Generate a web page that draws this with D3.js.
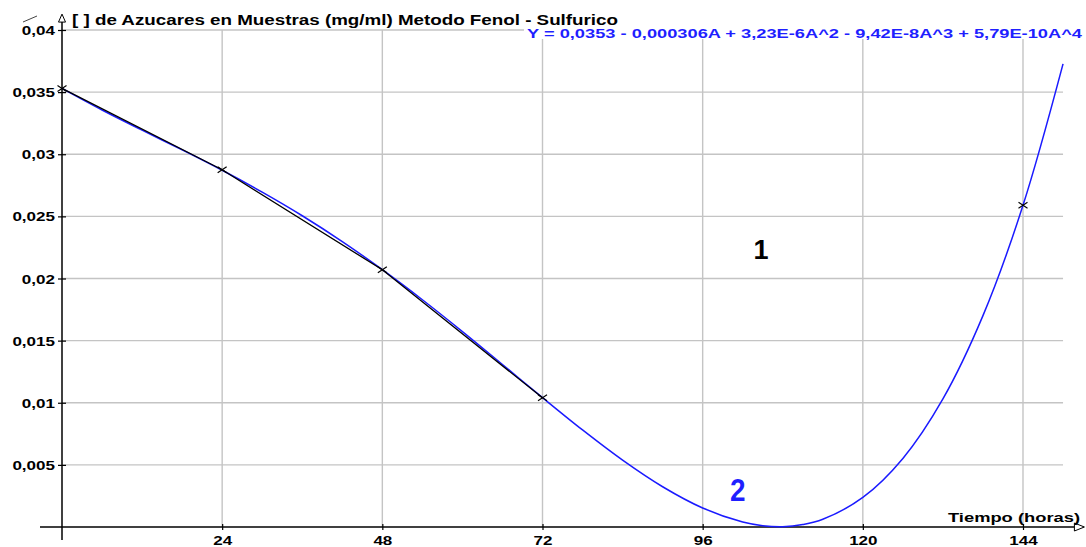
<!DOCTYPE html>
<html>
<head>
<meta charset="utf-8">
<script src="https://cdn.jsdelivr.net/npm/d3@7"></script>
<style>
  html, body { margin: 0; padding: 0; background: #ffffff; }
  svg { display: block; }
  text { font-family: "Liberation Sans", Arial, sans-serif; font-weight: bold; }
</style>
</head>
<body>
<svg id="chart" width="1086" height="547"></svg>
<script>
// ---- data ----
const titleText = "[ ] de Azucares en Muestras (mg/ml) Metodo Fenol - Sulfurico";
const equationText = "Y = 0,0353 - 0,000306A + 3,23E-6A^2 - 9,42E-8A^3 + 5,79E-10A^4";
const xAxisLabel = "Tiempo (horas)";

const sampleHours = [0, 24, 48, 72, 144];
const sampleConc = [0.0353, 0.02875, 0.0207, 0.0104, 0.0259];
const joinedCount = 4; // black line joins the first four samples

const curveHours = [0, 6, 12, 18, 24, 30, 36, 42, 48, 54, 60, 66, 72, 78, 84, 90, 96, 102, 105, 108, 111, 114, 120, 126, 132, 138, 144, 150];
const curveConc = [0.0353, 0.03356, 0.03194, 0.03035, 0.02871, 0.02695, 0.02505, 0.02297, 0.02071, 0.01829, 0.01573, 0.01308, 0.01041, 0.00781, 0.00538, 0.00324, 0.00153, 0.00040, 0.00011, 0.00003, 0.00020, 0.00062, 0.00238, 0.00552, 0.01031, 0.01701, 0.02589, 0.03727];

const xTickValues = [24, 48, 72, 96, 120, 144];
const xTickLabels = ["24", "48", "72", "96", "120", "144"];
const yTickValues = [0.005, 0.01, 0.015, 0.02, 0.025, 0.03, 0.035, 0.04];
const yTickLabels = ["0,005", "0,01", "0,015", "0,02", "0,025", "0,03", "0,035", "0,04"];

const markerLabels = [{text: "1", h: 103.6, c: 0.0216, color: "#000000", size: 27, sx: 1.0},
                      {text: "2", h: 100.1, c: 0.0021, color: "#1f1fff", size: 31, sx: 0.9}];

// ---- layout ----
const svg = d3.select("#chart");
const x = d3.scaleLinear().domain([0, 144]).range([62, 1023]);
const y = d3.scaleLinear().domain([0, 0.04]).range([527, 30]);
const gridColor = "#c4c4c4";
const stretch = 1.33;

function stretchText(sel, factor) {
  sel.each(function() {
    const w = this.getComputedTextLength();
    d3.select(this).attr("textLength", w * factor).attr("lengthAdjust", "spacingAndGlyphs");
  });
}

// grid
const grid = svg.append("g");
grid.selectAll("line.v").data(xTickValues).join("line")
  .attr("x1", d => x(d)).attr("x2", d => x(d))
  .attr("y1", y(0.04)).attr("y2", y(0))
  .attr("stroke", gridColor).attr("stroke-width", 1.4);
grid.selectAll("line.h").data(yTickValues).join("line")
  .attr("x1", x(0)).attr("x2", x(150))
  .attr("y1", d => y(d)).attr("y2", d => y(d))
  .attr("stroke", gridColor).attr("stroke-width", 1.4);

// axes
const yAxis = d3.axisLeft(y).tickValues(yTickValues)
  .tickFormat((d, i) => yTickLabels[i]).tickSize(4).tickPadding(3);
const gy = svg.append("g").attr("transform", `translate(${x(0)},0)`).call(yAxis);
gy.select(".domain").remove();
gy.selectAll(".tick line").attr("x2", -4).attr("x1", 4).attr("stroke", "#000").attr("stroke-width", 1.2);
gy.selectAll(".tick text").attr("font-size", 12.8).attr("fill", "#000")
  .attr("font-family", "Liberation Sans, Arial, sans-serif").attr("font-weight", "bold")
  .attr("dy", "0.36em");
stretchText(gy.selectAll(".tick text"), stretch);
gy.selectAll(".tick text").attr("x", function() { return -7 - (+this.getAttribute("textLength")); })
  .attr("text-anchor", "start");

const xAxis = d3.axisBottom(x).tickValues(xTickValues)
  .tickFormat((d, i) => xTickLabels[i]).tickSize(3).tickPadding(7);
const gx = svg.append("g").attr("transform", `translate(0,${y(0)})`).call(xAxis);
gx.select(".domain").remove();
gx.selectAll(".tick line").attr("y1", -3).attr("y2", 3).attr("stroke", "#000").attr("stroke-width", 1.2);
gx.selectAll(".tick text").attr("font-size", 12.8).attr("fill", "#000")
  .attr("font-family", "Liberation Sans, Arial, sans-serif").attr("font-weight", "bold")
  .attr("dy", "0.71em").attr("y", 9);
stretchText(gx.selectAll(".tick text"), stretch);
gx.selectAll(".tick text").attr("x", function() { return -(+this.getAttribute("textLength")) / 2; })
  .attr("text-anchor", "start");

// axis lines with hollow arrows
const xEnd = x(153.2);
svg.append("line").attr("x1", x(-3.3)).attr("x2", xEnd - 1).attr("y1", y(0)).attr("y2", y(0))
  .attr("stroke", "#000").attr("stroke-width", 1.3);
svg.append("path")
  .attr("d", `M${xEnd - 10},${y(0) - 4}L${xEnd},${y(0)}L${xEnd - 10},${y(0) + 4}Z`)
  .attr("fill", "#fff").attr("stroke", "#000").attr("stroke-width", 1);
const yTop = y(0.0412);
svg.append("line").attr("x1", x(0)).attr("x2", x(0)).attr("y1", y(-0.00105)).attr("y2", yTop + 1)
  .attr("stroke", "#000").attr("stroke-width", 1.5);
svg.append("path")
  .attr("d", `M${x(0) - 3.5},${yTop + 7}L${x(0)},${yTop - 1}L${x(0) + 3.5},${yTop + 7}Z`)
  .attr("fill", "#fff").attr("stroke", "#000").attr("stroke-width", 1);

// small legend stroke at top-left
svg.append("line").attr("x1", 23).attr("y1", 22).attr("x2", 37).attr("y2", 16)
  .attr("stroke", "#444").attr("stroke-width", 1);

// title
svg.append("text").attr("x", 72).attr("y", 24.5)
  .attr("font-size", 13.8).attr("fill", "#000").text(titleText)
  .attr("textLength", 546).attr("lengthAdjust", "spacingAndGlyphs");

// equation with white background
svg.append("rect").attr("x", 524).attr("y", 27).attr("width", 562).attr("height", 12).attr("fill", "#fff");
svg.append("text").attr("x", 527).attr("y", 38)
  .attr("font-size", 13.2).attr("fill", "#1f1fff").text(equationText)
  .attr("textLength", 555).attr("lengthAdjust", "spacingAndGlyphs");

// x axis label
svg.append("text").attr("x", 948).attr("y", 522)
  .attr("font-size", 13).attr("fill", "#000").text(xAxisLabel)
  .attr("textLength", 132).attr("lengthAdjust", "spacingAndGlyphs");

// fitted curve
const curvePts = curveHours.map((h, i) => [h, curveConc[i]]);
svg.append("path").datum(curvePts)
  .attr("d", d3.line().x(d => x(d[0])).y(d => y(d[1])).curve(d3.curveCatmullRom.alpha(0.5)))
  .attr("fill", "none").attr("stroke", "#1a1aff").attr("stroke-width", 1.5);

// black polyline through samples
const samplePts = sampleHours.map((h, i) => [h, sampleConc[i]]);
svg.append("path").datum(samplePts.slice(0, joinedCount))
  .attr("d", d3.line().x(d => x(d[0])).y(d => y(d[1])))
  .attr("fill", "none").attr("stroke", "#000").attr("stroke-width", 1.3);

// x markers
const m = 4.5;
const mk = svg.append("g").selectAll("g").data(samplePts).join("g")
  .attr("transform", d => `translate(${x(d[0])},${y(d[1])})`);
mk.append("line").attr("x1", -m).attr("y1", -m + 1.5).attr("x2", m).attr("y2", m - 1.5).attr("stroke", "#000").attr("stroke-width", 1.2);
mk.append("line").attr("x1", -m).attr("y1", m - 1.5).attr("x2", m).attr("y2", -m + 1.5).attr("stroke", "#000").attr("stroke-width", 1.2);

// curve labels
svg.append("g").selectAll("text").data(markerLabels).join("text")
  .attr("transform", d => `translate(${x(d.h)},${y(d.c)}) scale(${d.sx},1)`)
  .attr("font-size", d => d.size).attr("fill", d => d.color)
  .text(d => d.text);
</script>
</body>
</html>
